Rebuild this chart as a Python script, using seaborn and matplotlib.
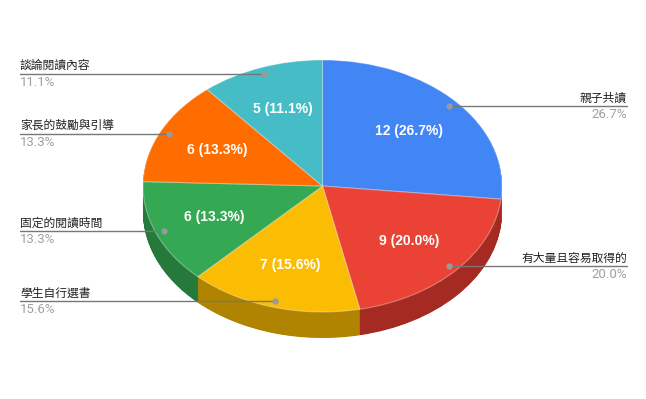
import matplotlib
matplotlib.use("Agg")
import matplotlib.pyplot as plt
import matplotlib.transforms as mtransforms
import seaborn as sns
import numpy as np

# ---- data ----
categories = ["親子共讀", "有大量且容易取得的", "學生自行選書",
              "固定的閱讀時間", "家長的鼓勵與引導", "談論閱讀內容"]
counts = [12, 9, 7, 6, 6, 5]
top_colors = ["#4285F4", "#EA4335", "#FBBC04", "#34A853", "#FF6D01", "#46BDC6"]
side_colors = ["#2E5DAB", "#A52A22", "#B08400", "#257A3B", "#B34C01", "#318489"]

sns.set_theme(style="white")
plt.rcParams['font.family'] = ['Noto Sans CJK TC', 'DejaVu Sans']

W, H = 646, 399
fig = plt.figure(figsize=(W / 100, H / 100), dpi=100)
ax = fig.add_axes([0, 0, 1, 1])

cx, cy, rx, ry, depth = 322.5, 186.0, 179.5, 126.0, 26.0
total = sum(counts)


def ell(dy=0.0):
    return mtransforms.Affine2D().scale(rx, -ry).translate(cx, cy + dy) + ax.transData


# side (stacked darker layers)
for d in np.arange(depth, 0, -0.5):
    ax.pie(counts, colors=side_colors, startangle=90, counterclock=False,
           wedgeprops=dict(linewidth=0, transform=ell(d)))

# top face
T = ell(0)
ax.pie(counts, colors=top_colors, startangle=90, counterclock=False,
       autopct=lambda p: f"{round(p * total / 100)} ({p:.1f}%)",
       pctdistance=0.65,
       wedgeprops=dict(linewidth=0.8, edgecolor=(1, 1, 1, 0.35), transform=T),
       textprops=dict(transform=T, color="white", fontsize=10, fontweight="bold",
                      family=["Liberation Sans", "DejaVu Sans"]))

ax.set_xlim(0, W)
ax.set_ylim(H, 0)
ax.set_aspect("auto")
ax.axis("off")

# leader lines and outside labels
cum = np.cumsum([0] + counts)
for i, (cat, c) in enumerate(zip(categories, counts)):
    mid = 90 - (cum[i] + c / 2) / total * 360
    th = np.deg2rad(mid)
    px = cx + rx * 0.95 * np.cos(th)
    py = cy - ry * 0.95 * np.sin(th)
    right = np.cos(th) > 0
    xe = 627 if right else 20
    ax.plot([px, xe], [py, py], color="#777777", lw=1, zorder=5)
    ax.plot([px], [py], "o", color="#9a9a9a", ms=3.5, zorder=6)
    ha = "right" if right else "left"
    ax.text(xe, py - 8, cat, ha=ha, va="center", fontsize=8.5, color="#222222", zorder=6)
    ax.text(xe, py + 8.5, f"{c / total * 100:.1f}%", ha=ha, va="center", fontsize=9.5,
            color="#a0a0a0", family=["Roboto", "DejaVu Sans"], zorder=6)

fig.savefig("out.png", dpi=100)
